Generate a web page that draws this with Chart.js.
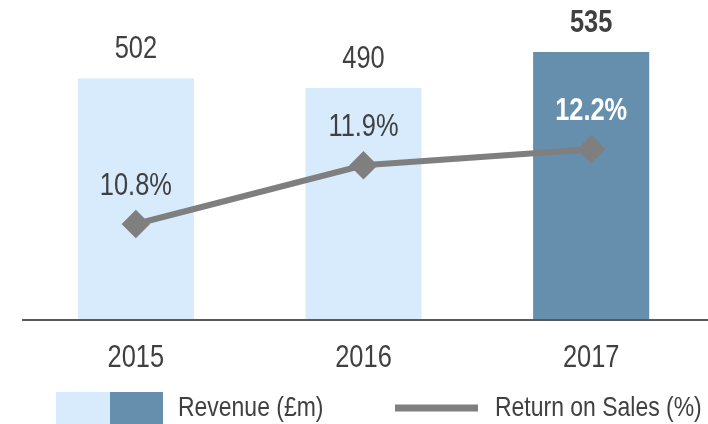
<!DOCTYPE html>
<html>
<head>
<meta charset="utf-8">
<script src="https://cdn.jsdelivr.net/npm/chart.js@4"></script>
<style>
  html, body { margin: 0; padding: 0; background: #fff; overflow: hidden; }
  #wrap { width: 708px; height: 424px; position: relative; }
  canvas { display: block; }
</style>
</head>
<body>
<div id="wrap"><canvas id="chart"></canvas></div>
<script>
'use strict';

const YEARS = ['2015', '2016', '2017'];
const REVENUE = [502, 490, 535];
const RETURN_ON_SALES = [10.8, 11.9, 12.2];
const REVENUE_LABELS = ['502', '490', '535'];
const ROS_LABELS = ['10.8%', '11.9%', '12.2%'];

// no narrow font installed, so Liberation Sans is squeezed horizontally
const FONT = '"Liberation Sans", Arial, sans-serif';
const NARROW = 0.82;
const TEXT = '#404040';
const LIGHT = '#d7ebfc';
const DARK = '#668ead';
const LINE = '#7f7f7f';

function narrowText(ctx, text, x, y, font, color, align = 'center') {
  ctx.save();
  ctx.font = font;
  ctx.fillStyle = color;
  ctx.textAlign = align;
  ctx.textBaseline = 'middle';
  ctx.translate(x, y);
  ctx.scale(NARROW, 1);
  ctx.fillText(text, 0, 0);
  ctx.restore();
}

// baseline runs past the plot area to the right edge, as in the original
const baseline = {
  id: 'baseline',
  afterDatasetsDraw(chart) {
    const { ctx, chartArea } = chart;
    ctx.save();
    ctx.strokeStyle = '#595959';
    ctx.lineWidth = 2;
    ctx.beginPath();
    ctx.moveTo(chartArea.left, chartArea.bottom);
    ctx.lineTo(chart.width, chartArea.bottom);
    ctx.stroke();
    ctx.restore();
  },
};

const valueLabels = {
  id: 'valueLabels',
  afterDatasetsDraw(chart) {
    const { ctx } = chart;
    const last = YEARS.length - 1;
    chart.getDatasetMeta(0).data.forEach((bar, i) => {
      const font = `${i === last ? 'bold ' : ''}31px ${FONT}`;
      narrowText(ctx, REVENUE_LABELS[i], bar.x, bar.y - 29, font, TEXT);
      narrowText(ctx, YEARS[i], bar.x, chart.chartArea.bottom + 38, `31px ${FONT}`, TEXT);
    });
    chart.getDatasetMeta(1).data.forEach((pt, i) => {
      const font = `${i === last ? 'bold ' : ''}31px ${FONT}`;
      narrowText(ctx, ROS_LABELS[i], pt.x, pt.y - 38, font, i === last ? '#ffffff' : TEXT);
    });
  },
};

const customLegend = {
  id: 'customLegend',
  afterDraw(chart) {
    const { ctx } = chart;
    ctx.save();
    ctx.fillStyle = LIGHT;
    ctx.fillRect(56, 392, 54, 32);
    ctx.fillStyle = DARK;
    ctx.fillRect(110, 392, 53, 32);
    ctx.strokeStyle = LINE;
    ctx.lineWidth = 7;
    ctx.beginPath();
    ctx.moveTo(395, 408);
    ctx.lineTo(478, 408);
    ctx.stroke();
    ctx.restore();
    narrowText(ctx, 'Revenue (£m)', 178, 408, `28px ${FONT}`, TEXT, 'left');
    narrowText(ctx, 'Return on Sales (%)', 495, 408, `28px ${FONT}`, TEXT, 'left');
  },
};

new Chart(document.getElementById('chart'), {
  type: 'bar',
  data: {
    labels: YEARS,
    datasets: [
      {
        type: 'bar',
        label: 'Revenue (£m)',
        data: REVENUE,
        yAxisID: 'y',
        backgroundColor: [LIGHT, LIGHT, DARK],
        categoryPercentage: 1,
        barPercentage: 0.51,
        order: 1,
      },
      {
        type: 'line',
        label: 'Return on Sales (%)',
        data: RETURN_ON_SALES,
        yAxisID: 'y1',
        borderColor: LINE,
        backgroundColor: LINE,
        borderWidth: 6,
        pointStyle: 'rectRot',
        pointRadius: 10,
        pointHoverRadius: 10,
        tension: 0,
        order: 0,
      },
    ],
  },
  options: {
    responsive: true,
    maintainAspectRatio: false,
    animation: false,
    events: [],
    layout: { autoPadding: false, padding: { left: 22, right: 3, top: 0, bottom: 104 } },
    plugins: {
      legend: { display: false },
      tooltip: { enabled: false },
    },
    scales: {
      x: {
        grid: { display: false, drawTicks: false },
        border: { display: false },
        ticks: { display: false },
      },
      y: { display: false, min: 200, max: 600 },
      y1: { display: false, min: 9, max: 15 },
    },
  },
  plugins: [baseline, valueLabels, customLegend],
});
</script>
</body>
</html>
